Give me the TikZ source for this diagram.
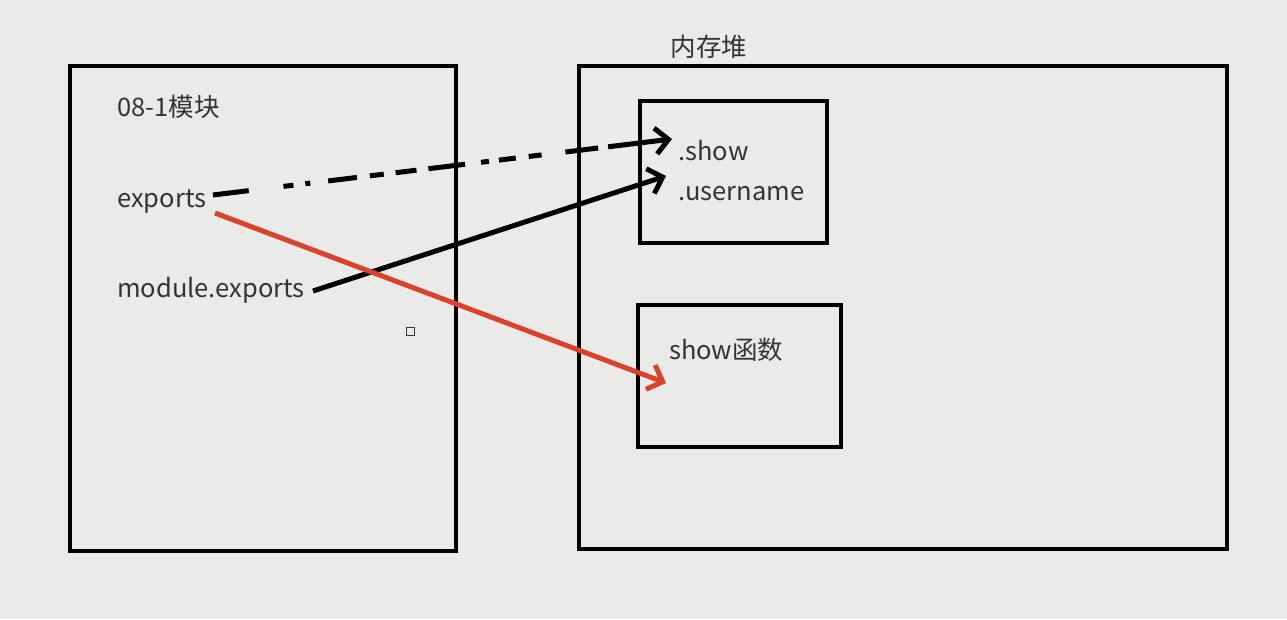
\documentclass[tikz,border=0pt]{standalone}
\usepackage{fontspec}
\setmainfont{Noto Sans CJK SC}
\usetikzlibrary{arrows.meta,calc}
\definecolor{bg}{HTML}{EAEAE8}
\definecolor{txt}{HTML}{333333}
\definecolor{redline}{HTML}{D9432E}
\tikzset{
  box/.style={draw=black, line width=4.5pt, fill=none, inner sep=0pt},
  lbl/.style={text=txt, font=\fontsize{25.5}{28}\selectfont, inner sep=0pt, anchor=west},
  tip/.style={-{Straight Barb[length=13pt,width=26pt,line width=5pt]}},
  arr/.style={line width=5pt, tip},
}
\begin{document}
\begin{tikzpicture}[x=1pt,y=-1pt]
\fill[bg] (0,0) rectangle (1287,619);
\useasboundingbox (0,0) rectangle (1287,619);
% boxes
\node[box, minimum width=386pt, minimum height=485pt] (mod) at (263,308.5) {};
\node[box, minimum width=648pt, minimum height=483pt] (heap) at (903,307.5) {};
\node[box, minimum width=187pt, minimum height=142pt] (obj) at (733.5,172) {};
\node[box, minimum width=203pt, minimum height=142pt] (fn) at (739.5,376) {};
% labels
\node[lbl, anchor=center] (heaplbl) at (709,47) {内存堆};
\node[lbl] (modlbl) at (117,107) {08-1模块};
\node[lbl] (exp) at (117,202) {exports};
\node[lbl] (mexp) at (117,290) {module.exports};
\node[lbl] (show) at (678,151) {.show};
\node[lbl] (user) at (678,194) {.username};
\node[lbl] (fnlbl) at (669,350) {show函数};
% small square
\node[draw=txt, line width=0.8pt, minimum size=8pt, inner sep=0pt] (sq) at (410,331) {};
% arrow targets
\coordinate (tshow) at (672,139);
\coordinate (tuser) at (666,176);
\coordinate (tfn) at (666,383);
\coordinate (sexp) at (213,195);
\coordinate (sexpr) at (215,213);
\coordinate (smexp) at (313,291);
\coordinate (dend) at ($(sexp)!0.93!(tshow)$);
% arrows
\draw[line width=5pt, dash pattern=on 36pt off 35pt on 10pt off 12pt on 5pt off 18pt on 29pt off 13pt on 14pt off 12pt on 21pt off 12pt on 37pt off 16pt on 8pt off 10pt on 17pt off 13pt on 13pt off 24pt on 33pt off 10pt on 60pt off 1pt] (sexp) -- (dend);
\draw[arr] (dend) -- (tshow);
\draw[arr] (smexp) -- (tuser);
\draw[arr, draw=redline] (sexpr) -- (tfn);
\end{tikzpicture}
\end{document}
